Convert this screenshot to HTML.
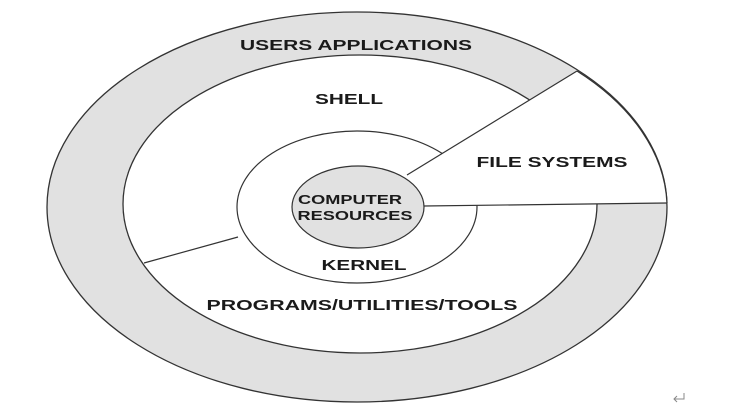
<!DOCTYPE html>
<html><head><meta charset="utf-8"><style>
html,body{margin:0;padding:0;background:#fff;}
svg{display:block;}
text{font-family:"Liberation Sans",Arial,sans-serif;font-weight:bold;fill:#1a1a1a;}
</style></head><body>
<svg width="749" height="412" viewBox="0 0 749 412" xmlns="http://www.w3.org/2000/svg">
<rect width="749" height="412" fill="#fff"/>
<ellipse cx="357" cy="207" rx="310" ry="195" fill="#e1e1e1" stroke="#333" stroke-width="1.3"/>
<ellipse cx="360" cy="204" rx="237" ry="149" fill="#fff" stroke="#333" stroke-width="1.3"/>
<ellipse cx="357" cy="207" rx="120" ry="76" fill="#fff" stroke="#333" stroke-width="1.2"/>
<path d="M407 175 L577 71 A310 195 0 0 1 667 203 L424 206 Z" fill="#fff" stroke="none"/>
<path d="M577 71 A310 195 0 0 1 667 203" fill="none" stroke="#333" stroke-width="1.3"/>
<line x1="407" y1="175" x2="577" y2="71" stroke="#333" stroke-width="1.2"/>
<line x1="424" y1="206" x2="667" y2="203" stroke="#333" stroke-width="1.2"/>
<line x1="238" y1="237" x2="144" y2="263" stroke="#333" stroke-width="1.2"/>
<ellipse cx="358" cy="207" rx="66" ry="41" fill="#e1e1e1" stroke="#333" stroke-width="1.2"/>
<text x="356" y="50" font-size="15" text-anchor="middle" textLength="232" lengthAdjust="spacingAndGlyphs">USERS APPLICATIONS</text>
<text x="349" y="104" font-size="15" text-anchor="middle" textLength="68" lengthAdjust="spacingAndGlyphs">SHELL</text>
<text x="552" y="167" font-size="15" text-anchor="middle" textLength="151" lengthAdjust="spacingAndGlyphs">FILE SYSTEMS</text>
<text x="350" y="204" font-size="13" text-anchor="middle" textLength="104" lengthAdjust="spacingAndGlyphs">COMPUTER</text>
<text x="355" y="220" font-size="13" text-anchor="middle" textLength="115" lengthAdjust="spacingAndGlyphs">RESOURCES</text>
<text x="364" y="270" font-size="15" text-anchor="middle" textLength="85" lengthAdjust="spacingAndGlyphs">KERNEL</text>
<text x="362" y="310" font-size="15" text-anchor="middle" textLength="311" lengthAdjust="spacingAndGlyphs">PROGRAMS/UTILITIES/TOOLS</text>
<path d="M684 393 V399 H674 M677 396 L674 399 L677 402" fill="none" stroke="#888" stroke-width="1"/>
</svg>
</body></html>
